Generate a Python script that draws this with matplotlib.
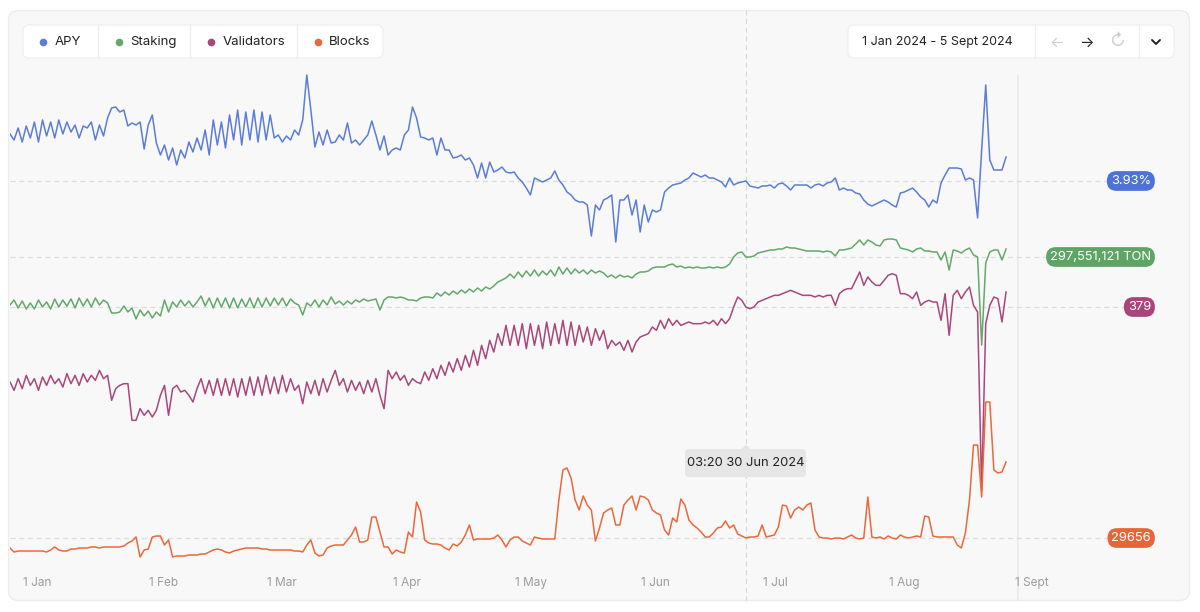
import matplotlib
matplotlib.use("Agg")
import matplotlib.pyplot as plt
import matplotlib.transforms as mtransforms
from matplotlib.patches import FancyBboxPatch, Polygon
from matplotlib.lines import Line2D
import pandas as pd

plt.rcParams['font.family'] = ['Inter', 'DejaVu Sans']

W, H = 1200, 612

# one value per day, 1 Jan .. 2 Sept 2024
dates = pd.date_range("2024-01-01", periods=246, freq="D")

apy = [
    4.165, 4.135, 4.195, 4.125, 4.205, 4.145, 4.225, 4.125, 4.235, 4.155,
    4.225, 4.145, 4.235, 4.165, 4.225, 4.175, 4.21, 4.145, 4.205, 4.195,
    4.225, 4.135, 4.21, 4.155, 4.245, 4.295, 4.30, 4.275, 4.285, 4.205,
    4.22, 4.21, 4.225, 4.09, 4.21, 4.26, 4.12, 4.06, 4.11, 4.035,
    4.095, 4.01, 4.085, 4.045, 4.125, 4.075, 4.145, 4.085, 4.185, 4.06,
    4.235, 4.11, 4.225, 4.095, 4.26, 4.135, 4.285, 4.11, 4.275, 4.135,
    4.285, 4.125, 4.275, 4.135, 4.26, 4.145, 4.16, 4.125, 4.155, 4.135,
    4.185, 4.16, 4.235, 4.46, 4.285, 4.10, 4.175, 4.11, 4.185, 4.12,
    4.125, 4.16, 4.135, 4.22, 4.12, 4.135, 4.11, 4.135, 4.16, 4.23,
    4.16, 4.085, 4.155, 4.06, 4.085, 4.095, 4.085, 4.16, 4.185, 4.30,
    4.245, 4.15, 4.145, 4.135, 4.145, 4.06, 4.145, 4.085, 4.085, 4.045,
    4.05, 4.06, 4.035, 4.045, 4.01, 3.945, 4.02, 3.945, 4.025, 3.975,
    3.985, 4.00, 3.975, 3.97, 3.975, 3.945, 3.925, 3.895, 3.86, 3.945,
    3.935, 3.925, 3.935, 3.945, 3.98, 3.935, 3.91, 3.875, 3.86, 3.835,
    3.825, 3.825, 3.81, 3.655, 3.81, 3.785, 3.835, 3.845, 3.86, 3.625,
    3.835, 3.835, 3.86, 3.76, 3.835, 3.675, 3.81, 3.725, 3.785, 3.775,
    3.785, 3.875, 3.895, 3.91, 3.915, 3.92, 3.935, 3.945, 3.97, 3.96,
    3.95, 3.96, 3.945, 3.945, 3.935, 3.925, 3.90, 3.945, 3.91, 3.92,
    3.925, 3.93, 3.905, 3.90, 3.895, 3.905, 3.905, 3.91, 3.895, 3.915,
    3.92, 3.905, 3.885, 3.91, 3.91, 3.91, 3.91, 3.895, 3.91, 3.915,
    3.905, 3.92, 3.925, 3.945, 3.885, 3.895, 3.885, 3.885, 3.87, 3.865,
    3.835, 3.815, 3.805, 3.815, 3.825, 3.835, 3.825, 3.81, 3.80, 3.87,
    3.875, 3.885, 3.895, 3.875, 3.85, 3.835, 3.80, 3.835, 3.82, 3.92,
    3.96, 3.995, 3.995, 3.995, 3.99, 3.935, 3.945, 3.935, 3.745, 4.085,
    4.41, 4.035, 3.985, 3.985, 3.985, 4.05,
]

# million TON
staking = [
    259.15, 263.15, 256.75, 262.35, 255.95, 260.75, 255.95, 263.15, 257.55, 261.55,
    255.95, 263.95, 257.55, 263.15, 258.35, 263.95, 256.75, 264.75, 258.35, 263.95,
    257.55, 264.75, 259.15, 263.15, 260.75, 252.75, 252.75, 253.55, 258.35, 253.55,
    256.75, 247.95, 255.15, 250.35, 254.35, 248.75, 253.55, 250.35, 263.15, 253.55,
    261.55, 257.55, 263.15, 258.35, 262.35, 257.55, 261.55, 266.35, 258.35, 264.75,
    256.75, 264.75, 257.55, 264.75, 256.75, 264.75, 256.75, 263.95, 257.55, 264.75,
    256.75, 264.75, 257.55, 264.75, 258.35, 264.75, 259.15, 264.75, 258.35, 263.95,
    260.75, 259.15, 251.15, 260.75, 258.35, 263.15, 257.55, 263.15, 259.15, 265.55,
    259.95, 262.35, 259.15, 262.35, 259.95, 263.15, 261.55, 263.95, 262.35, 263.15,
    263.95, 255.15, 263.15, 265.55, 265.55, 264.75, 265.55, 264.75, 263.15, 263.15,
    262.35, 264.75, 265.55, 265.55, 264.75, 268.75, 266.35, 269.55, 267.15, 270.35,
    267.95, 271.15, 268.75, 271.95, 269.55, 272.75, 270.35, 273.55, 271.95, 274.35,
    277.55, 279.15, 280.75, 283.95, 280.75, 285.55, 281.55, 286.35, 282.35, 287.15,
    282.35, 286.35, 283.15, 287.15, 282.35, 289.55, 283.95, 288.75, 283.95, 287.95,
    284.75, 287.15, 283.95, 287.15, 284.75, 286.35, 284.75, 281.55, 283.15, 280.75,
    283.15, 281.55, 282.35, 280.75, 283.95, 285.55, 285.55, 286.35, 288.75, 289.55,
    289.55, 289.55, 291.15, 291.95, 289.55, 290.35, 288.75, 289.55, 288.75, 289.55,
    288.75, 288.75, 289.55, 288.75, 289.55, 288.75, 289.55, 291.95, 297.55, 300.75,
    301.55, 297.551121, 297.55, 298.35, 300.75, 301.55, 302.35, 303.15, 303.15, 303.95,
    303.95, 305.55, 304.75, 304.75, 303.95, 303.15, 302.35, 302.35, 302.35, 302.35,
    301.55, 302.35, 301.55, 298.35, 303.15, 303.15, 303.95, 304.75, 307.95, 311.15,
    307.15, 311.15, 309.55, 307.15, 306.35, 311.15, 311.95, 311.95, 311.15, 304.75,
    303.95, 303.15, 301.55, 303.95, 304.75, 302.35, 302.35, 301.55, 301.55, 295.15,
    301.55, 287.15, 303.15, 302.35, 300.75, 303.15, 304.75, 299.15, 297.55, 227.15,
    292.75, 301.55, 303.15, 303.15, 295.15, 303.95,
]

validators = [
    334, 329, 336, 330, 338, 332, 336, 329, 337, 332,
    338, 333, 336, 331, 339, 333, 338, 332, 339, 334,
    338, 335, 341, 336, 338, 323, 330, 332, 333, 333,
    311, 311, 318, 314, 317, 313, 317, 326, 332, 314,
    330, 332, 328, 329, 326, 322, 330, 336, 327, 335,
    326, 336, 326, 336, 326, 336, 325, 336, 326, 337,
    326, 337, 326, 338, 327, 337, 327, 338, 328, 336,
    329, 332, 321, 334, 327, 335, 326, 336, 328, 335,
    341, 332, 336, 328, 335, 329, 334, 327, 335, 328,
    336, 326, 318, 341, 336, 340, 335, 338, 332, 336,
    334, 333, 340, 335, 342, 336, 344, 338, 346, 340,
    348, 341, 350, 343, 353, 344, 356, 348, 359, 352,
    363, 356, 368, 356, 368, 356, 369, 354, 369, 356,
    368, 354, 370, 356, 369, 357, 371, 356, 370, 356,
    368, 358, 367, 356, 366, 359, 365, 354, 359, 356,
    358, 353, 359, 352, 358, 361, 362, 363, 367, 365,
    371, 366, 372, 368, 371, 368, 369, 370, 369, 369,
    369, 370, 369, 371, 368, 372, 369, 372, 379, 385,
    383, 379, 378, 379, 382, 383, 384, 385, 386, 386,
    387, 388, 389, 388, 387, 386, 386, 386, 385, 386,
    385, 386, 386, 380, 387, 389, 390, 390, 395, 400,
    392, 397, 394, 392, 392, 395, 398, 399, 398, 387,
    387, 386, 384, 388, 380, 382, 383, 382, 382, 371,
    387, 362, 386, 389, 384, 388, 391, 380, 376, 269,
    369, 380, 385, 384, 370, 388,
]

blocks = [
    29536, 29488, 29500, 29500, 29500, 29500, 29500, 29500, 29500, 29488,
    29512, 29548, 29512, 29500, 29500, 29524, 29524, 29536, 29536, 29536,
    29548, 29548, 29536, 29548, 29548, 29548, 29548, 29548, 29560, 29596,
    29620, 29668, 29428, 29512, 29524, 29668, 29680, 29680, 29572, 29632,
    29428, 29440, 29440, 29440, 29452, 29452, 29452, 29464, 29464, 29488,
    29512, 29524, 29512, 29488, 29476, 29500, 29512, 29524, 29536, 29536,
    29536, 29536, 29524, 29524, 29512, 29512, 29512, 29512, 29512, 29512,
    29500, 29500, 29488, 29572, 29632, 29476, 29440, 29452, 29536, 29560,
    29572, 29572, 29572, 29632, 29692, 29788, 29608, 29608, 29632, 29908,
    29908, 29728, 29548, 29548, 29464, 29512, 29488, 29476, 29728, 29668,
    30088, 29968, 29632, 29596, 29584, 29584, 29572, 29536, 29512, 29584,
    29560, 29608, 29692, 29812, 29632, 29644, 29644, 29644, 29644, 29656,
    29692, 29632, 29548, 29632, 29668, 29668, 29620, 29596, 29572, 29668,
    29656, 29644, 29644, 29644, 29644, 30112, 30472, 30496, 30376, 30112,
    29992, 30160, 30052, 29992, 29620, 29776, 29956, 29992, 30016, 29812,
    29812, 30052, 30112, 30160, 29992, 30160, 30148, 30112, 29992, 29956,
    29932, 29752, 29692, 29896, 29848, 30124, 30052, 29872, 29812, 29776,
    29728, 29668, 29668, 29716, 29776, 29788, 29860, 29776, 29812, 29704,
    29680, 29656, 29668, 29668, 29680, 29812, 29668, 29680, 29692, 29788,
    30052, 30040, 29896, 29992, 30028, 29992, 30052, 30076, 29752, 29668,
    29656, 29656, 29644, 29656, 29656, 29644, 29668, 29692, 29656, 29644,
    29656, 30148, 29668, 29656, 29668, 29644, 29680, 29656, 29644, 29692,
    29668, 29656, 29668, 29680, 29668, 29920, 29908, 29680, 29668, 29668,
    29668, 29668, 29668, 29572, 29536, 29716, 30112, 30772, 30772, 30148,
    31288, 31288, 30472, 30436, 30448, 30568,
]

names = ["APY", "Staking", "Validators", "Blocks"]
colors = ["#5b7dd6", "#64a86b", "#a8477b", "#e8693b"]
badge_colors = ["#4d72d8", "#5ea565", "#a8457a", "#e5663a"]
# each series gets its own vertical band
ylims = [(1.83, 4.785), (22.35, 495.15), (202.6, 557.2), (28900, 35992)]

cross_time = pd.Timestamp("2024-06-30 03:20")
cross_idx = 181
range_end = pd.Timestamp("2024-09-05")
month_ticks = pd.date_range("2024-01-01", "2024-09-01", freq="MS")
month_labels = ["1 Jan", "1 Feb", "1 Mar", "1 Apr", "1 May", "1 Jun",
                "1 Jul", "1 Aug", "1 Sept"]


def badge_text(i, v):
    if i == 0:
        return f"{v:.2f}%"
    if i == 1:
        return f"{round(v * 1e6):,} TON"
    return f"{int(round(v))}"


fig = plt.figure(figsize=(W / 100, H / 100), dpi=100)
fig.patch.set_facecolor("white")
px = mtransforms.Affine2D().scale(1 / W, -1 / H).translate(0, 1) + fig.transFigure

card = FancyBboxPatch((8.5, 10.5), 1181, 590, boxstyle="round,pad=0,rounding_size=10",
                      fc="#f8f8f8", ec="#ececec", lw=1, transform=px, zorder=-5)
fig.add_artist(card)

ax = fig.add_axes([10 / W, (H - 601) / H, 1179 / W, 591 / H])
ax.set_xlim(dates[0], dates[0] + pd.Timedelta(days=290))
ax.set_ylim(0, 1)
ax.axis("off")

ax.axvline(cross_time, color="#d9d9d9", lw=0.9, ls=(0, (4, 3)), zorder=0)
ax.axvline(range_end, ymin=0, ymax=(601 - 76) / 591, color="#e8e8e8", lw=1.1, zorder=0)

all_series = [apy, staking, validators, blocks]
axes = []
for i, vals in enumerate(all_series):
    a = ax.twinx()
    a.set_ylim(*ylims[i])
    a.axis("off")
    axes.append(a)

badge_x = (1151 - 10) / 1179
for i, vals in enumerate(all_series):
    a = axes[i]
    v = vals[cross_idx]
    tr = mtransforms.blended_transform_factory(ax.transAxes, a.transData)
    ax.add_line(Line2D([0, badge_x - 0.01], [v, v], transform=tr, color="#dcdcdc",
                       lw=0.9, ls=(0, (4, 3)), zorder=0))

for i, vals in enumerate(all_series):
    axes[i].plot(dates, vals, color=colors[i], lw=1.1, solid_joinstyle="round")

top = axes[-1]
for i, vals in enumerate(all_series):
    v = vals[cross_idx]
    tr = mtransforms.blended_transform_factory(ax.transAxes, axes[i].transData)
    top.text(badge_x, v, badge_text(i, v), transform=tr, ha="right", va="center",
             fontsize=9.3, color="white", zorder=10,
             bbox=dict(boxstyle="round,pad=0.3,rounding_size=0.75", fc=badge_colors[i], ec="none"))

lab_tr = mtransforms.offset_copy(
    mtransforms.blended_transform_factory(ax.transData, ax.transAxes), fig=fig, x=13, y=0, units="dots")
for d, lab in zip(month_ticks, month_labels):
    ax.text(d, (601 - 583) / 591, lab, transform=lab_tr, ha="left", va="center",
            fontsize=8.5, color="#9c9c9c")

# legend box
fig.add_artist(FancyBboxPatch((23, 25), 360, 33, boxstyle="round,pad=0,rounding_size=6",
                              fc="white", ec="#eeeeee", lw=0.8, transform=px, zorder=5))
for sx in [98, 190, 297]:
    fig.add_artist(Line2D([sx, sx], [25, 58], color="#eeeeee", lw=0.9, transform=px, zorder=6))
dot_x = [43, 119, 211, 318]
txt_x = [55, 130, 223, 329]
for i in range(4):
    fig.add_artist(Line2D([dot_x[i]], [42], marker="o", ms=5.5, color=colors[i],
                          mec="none", transform=px, zorder=6))
    fig.text(txt_x[i] / W, 1 - 42 / H, names[i], ha="left", va="center",
             fontsize=9.5, color="#222222", zorder=6)

# date range box
fig.add_artist(FancyBboxPatch((848, 25), 326, 33, boxstyle="round,pad=0,rounding_size=6",
                              fc="white", ec="#eeeeee", lw=0.8, transform=px, zorder=5))
for sx in [1035, 1139]:
    fig.add_artist(Line2D([sx, sx], [25, 58], color="#eeeeee", lw=0.9, transform=px, zorder=6))
fig.text(862 / W, 1 - 42 / H, "1 Jan 2024 - 5 Sept 2024", ha="left", va="center",
         fontsize=9, color="#222222", zorder=6)
fig.text(1057 / W, 1 - 42 / H, "←", ha="center", va="center", fontsize=11,
         color="#cccccc", zorder=6)
fig.text(1086 / W, 1 - 42 / H, "→", ha="center", va="center", fontsize=11,
         color="#222222", zorder=6)
fig.text(1117 / W, 1 - 42 / H, "↻", ha="center", va="center", fontsize=12,
         color="#cccccc", zorder=6)
fig.add_artist(Line2D([1152, 1156, 1160], [40, 44, 40], color="#222222", lw=1.4,
                      solid_capstyle="round", transform=px, zorder=6))

# tooltip at crosshair
fig.add_artist(FancyBboxPatch((685, 449), 121, 28, boxstyle="round,pad=0,rounding_size=4",
                              fc="#e6e6e6", ec="none", transform=px, zorder=7))
fig.add_artist(Polygon([(741, 449.5), (746, 444.5), (751, 449.5)], closed=True,
                       fc="#e6e6e6", ec="none", transform=px, zorder=7))
fig.text(746 / W, 1 - 463 / H, "03:20 30 Jun 2024", ha="center", va="center",
         fontsize=9.3, color="#222222", zorder=8)

fig.savefig("out.png", dpi=100, facecolor="white")
